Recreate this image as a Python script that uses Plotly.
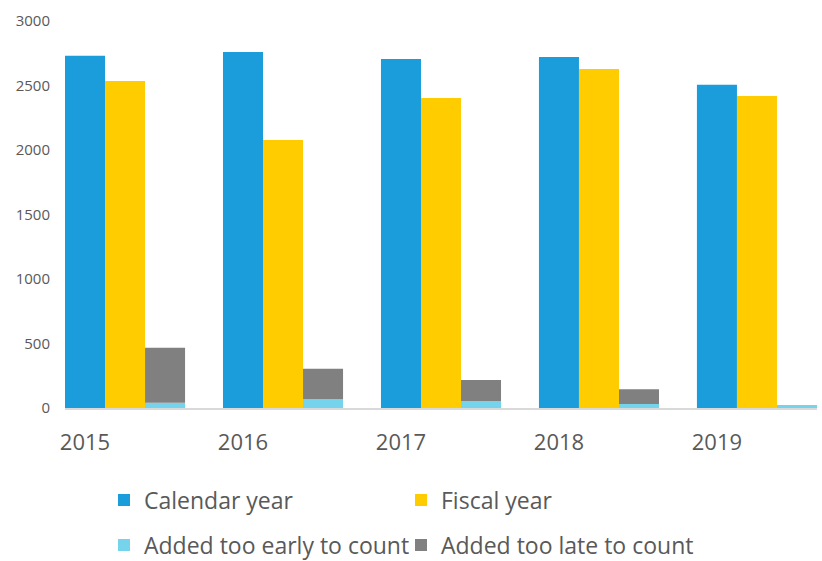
import plotly.graph_objects as go

years = ["2015", "2016", "2017", "2018", "2019"]
calendar_year = [2730, 2760, 2705, 2720, 2505]
fiscal_year = [2535, 2078, 2403, 2628, 2419]
added_too_early = [40, 67, 54, 31, 23]
added_too_late = [428, 238, 163, 114, 0]

idx = list(range(len(years)))
group_w = 0.76
bar_w = group_w / 3

FONT = "Open Sans"
TXT = "#595959"

fig = go.Figure()
fig.add_trace(go.Bar(x=idx, y=calendar_year, name="Calendar year", offsetgroup="cal",
                     marker=dict(color="#1B9DDB", line=dict(width=0)), legend="legend"))
fig.add_trace(go.Bar(x=idx, y=fiscal_year, name="Fiscal year", offsetgroup="fis",
                     marker=dict(color="#FFCC00", line=dict(width=0)), legend="legend2"))
fig.add_trace(go.Bar(x=idx, y=added_too_early, name="Added too early to count", offsetgroup="add",
                     marker=dict(color="#75D3EB", line=dict(width=0)), legend="legend3"))
fig.add_trace(go.Bar(x=idx, y=added_too_late, base=added_too_early, name="Added too late to count",
                     offsetgroup="add", marker=dict(color="#808080", line=dict(width=0)), legend="legend4"))
fig.update_traces(showlegend=True)

legend_common = dict(orientation="h", xref="container", yref="container", xanchor="left",
                     yanchor="middle", font=dict(family=FONT, size=23, color=TXT),
                     bgcolor="rgba(0,0,0,0)", itemclick=False)

col1, col2 = 104 / 822, 401 / 822
row1, row2 = 1 - 500 / 561, 1 - 545 / 561

fig.update_layout(
    width=822, height=561,
    showlegend=True,
    margin=dict(l=65, r=5, t=21, b=153),
    paper_bgcolor="white", plot_bgcolor="white",
    barmode="group", bargap=1 - group_w, bargroupgap=0,
    font=dict(family=FONT, color=TXT),
    xaxis=dict(range=[-group_w / 2, len(years) - 1 + group_w / 2],
               tickvals=[i - group_w / 2 + bar_w / 2 for i in idx], ticktext=years,
               tickfont=dict(size=22, color=TXT), showgrid=False, zeroline=False,
               showline=True, linecolor="#D9D9D9", linewidth=2, ticks="",
               ticklabelstandoff=14),
    yaxis=dict(range=[0, 3000], tickvals=[0, 500, 1000, 1500, 2000, 2500, 3000],
               tickfont=dict(size=15, color=TXT), showgrid=False, zeroline=False,
               showline=False, ticks="", ticklabelstandoff=14),
    legend=dict(x=col1, y=row1, **legend_common),
    legend2=dict(x=col2, y=row1, **legend_common),
    legend3=dict(x=col1, y=row2, **legend_common),
    legend4=dict(x=col2, y=row2, **legend_common),
)

fig.write_html("out.html")
